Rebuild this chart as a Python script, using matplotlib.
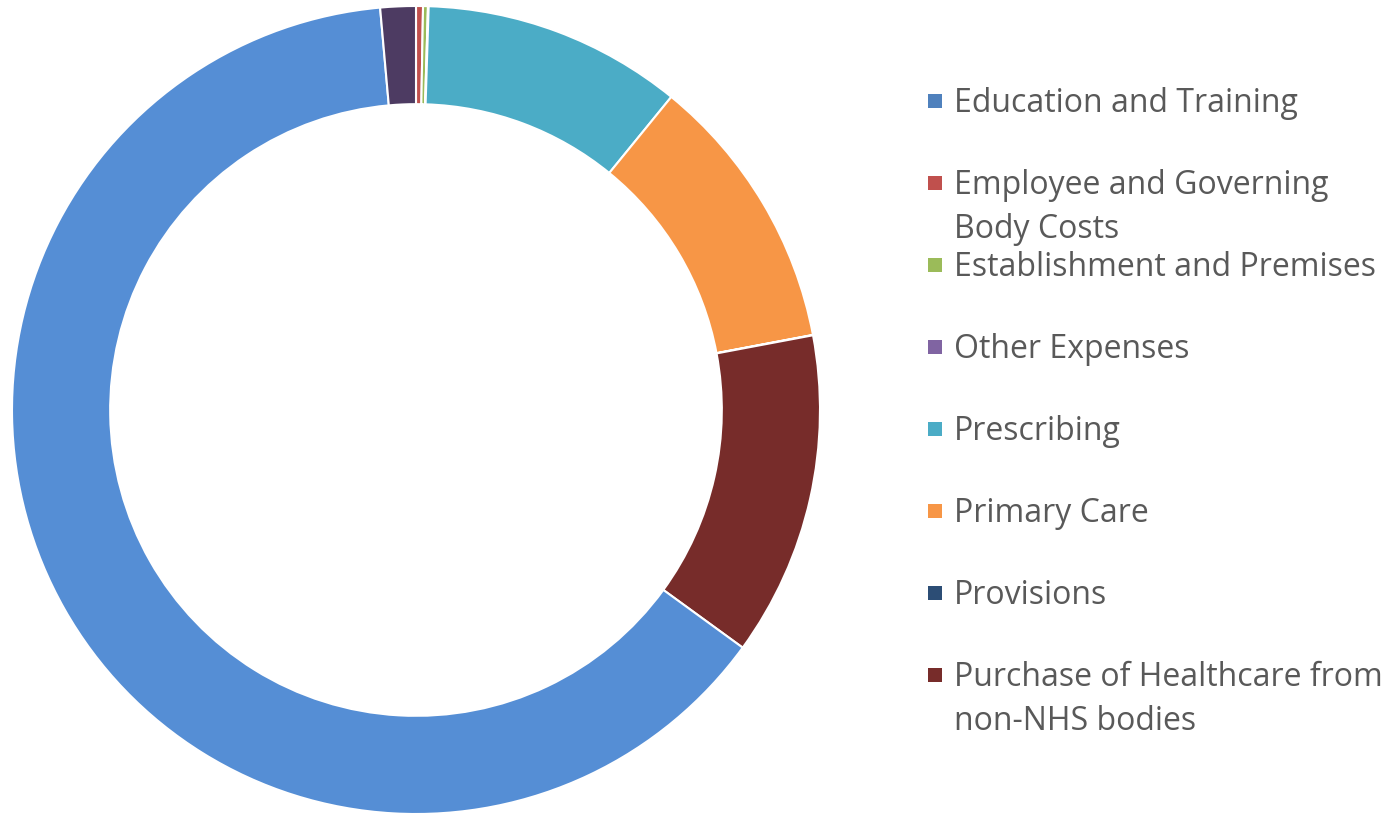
import matplotlib
import matplotlib.pyplot as plt
from matplotlib.patches import Rectangle

matplotlib.use("agg")

# slice values in degrees-of-ring share, clockwise from 12 o'clock
slice_names = [
    "Employee and Governing\nBody Costs",
    "Establishment and Premises",
    "Other Expenses",
    "Prescribing",
    "Primary Care",
    "Provisions",
    "Purchase of Healthcare from\nnon-NHS bodies",
    "Education and Training",
    "_unlabelled",
]
slice_values = [1.0, 0.7, 0.1, 37.4, 40.1, 0.05, 46.7, 228.9, 5.1]
slice_colors = ["#C0504D", "#9BBB59", "#8064A2", "#4BACC6", "#F79646",
                "#2C4D75", "#772C2A", "#558ED5", "#4D3B62"]

# legend order as shown on the right
legend_names = [
    "Education and Training",
    "Employee and Governing\nBody Costs",
    "Establishment and Premises",
    "Other Expenses",
    "Prescribing",
    "Primary Care",
    "Provisions",
    "Purchase of Healthcare from\nnon-NHS bodies",
]
legend_colors = ["#4F81BD", "#C0504D", "#9BBB59", "#8064A2", "#4BACC6",
                 "#F79646", "#2C4D75", "#772C2A"]

W, H = 1389, 816
fig = plt.figure(figsize=(W / 100, H / 100), dpi=100)

# donut
ax = fig.add_axes([12 / W, 2 / H, 808 / W, 808 / H])
ax.pie(
    slice_values,
    colors=slice_colors,
    startangle=90,
    counterclock=False,
    radius=1.0,
    wedgeprops=dict(width=0.243, edgecolor="white", linewidth=1.5),
)
ax.set_xlim(-1, 1)
ax.set_ylim(-1, 1)
ax.set_aspect("equal")
ax.axis("off")

# legend drawn by hand to match spacing
leg = fig.add_axes([0, 0, 1, 1])
leg.set_xlim(0, W)
leg.set_ylim(H, 0)
leg.axis("off")
for i, (name, col) in enumerate(zip(legend_names, legend_colors)):
    y = 101 + i * 82
    leg.add_patch(Rectangle((928, y - 7), 14, 14, facecolor=col, edgecolor="none"))
    for k, line in enumerate(name.split("\n")):
        leg.text(954, y + 2 + k * 45, line, fontsize=23, color="#595959",
                 family="Open Sans", va="center", ha="left")

fig.savefig("out.png", dpi=100)
